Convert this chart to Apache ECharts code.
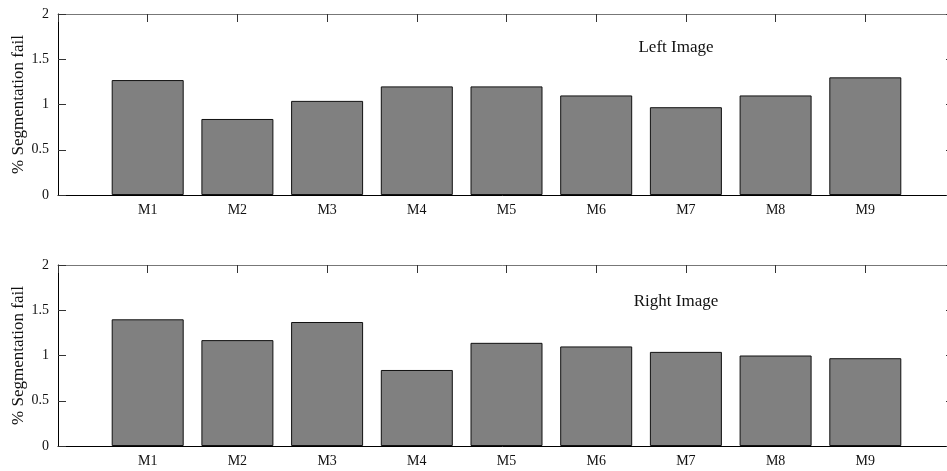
<!DOCTYPE html>
<html style="height: 100%">
<head>
    <meta charset="utf-8">
</head>
<body style="height: 100%; margin: 0; background: #fff">
    <div id="container" style="width: 947px; height: 471px"></div>
    <script type="text/javascript" src="https://cdn.jsdelivr.net/npm/echarts@6/dist/echarts.min.js"></script>
    <script type="text/javascript">
var methods = ['M1', 'M2', 'M3', 'M4', 'M5', 'M6', 'M7', 'M8', 'M9'];
var leftFail = [1.27, 0.84, 1.04, 1.20, 1.20, 1.10, 0.97, 1.10, 1.30];
var rightFail = [1.40, 1.17, 1.37, 0.84, 1.14, 1.10, 1.04, 1.00, 0.97];
var yTicks = [0, 0.5, 1, 1.5, 2];

var dom = document.getElementById("container");
var myChart = echarts.init(dom);
var font = 'Liberation Serif';

// bars sit at x = 1..9 on a 0..10 axis, like matlab's bar()
var toPoints = function (vals) {
    var res = [];
    for (var i = 0; i < vals.length; i++) {
        res.push([i + 1, vals[i]]);
    }
    return res;
};

var bottomAxis = function (gi) {
    return {
        type: 'value', gridIndex: gi, min: 0, max: 10, interval: 1,
        axisLine: { lineStyle: { color: '#000', width: 1 } },
        axisTick: { show: false },
        splitLine: { show: false },
        axisLabel: {
            color: '#111', fontFamily: font, fontSize: 14, margin: 8,
            formatter: function (v) { return methods[v - 1] || ''; }
        }
    };
};
var topAxis = function (gi) {
    return {
        type: 'value', gridIndex: gi, position: 'top', min: 0, max: 10, interval: 1,
        axisLine: { onZero: false, lineStyle: { color: '#777', width: 1 } },
        axisTick: { inside: true, length: 8, lineStyle: { color: '#333' } },
        splitLine: { show: false },
        axisLabel: { show: false }
    };
};
var leftAxis = function (gi) {
    return {
        type: 'value', gridIndex: gi, min: yTicks[0], max: yTicks[yTicks.length - 1], interval: 0.5,
        name: '% Segmentation fail', nameLocation: 'middle', nameRotate: 90, nameGap: 31,
        nameMoveOverlap: false,
        nameTextStyle: { color: '#111', fontFamily: font, fontSize: 17 },
        axisLine: { show: true, onZero: false, lineStyle: { color: '#000', width: 1 } },
        axisTick: { inside: true, length: 8, lineStyle: { color: '#333' } },
        splitLine: { show: false },
        axisLabel: { color: '#111', fontFamily: font, fontSize: 14, margin: 9 }
    };
};
var rightAxis = function (gi) {
    return {
        type: 'value', gridIndex: gi, position: 'right', min: 0, max: 2, interval: 0.5,
        axisLine: { show: true, onZero: false, lineStyle: { color: '#777', width: 1 } },
        axisTick: { inside: true, length: 9, lineStyle: { color: '#333' } },
        splitLine: { show: false },
        axisLabel: { show: false }
    };
};
var barSeries = function (idx, vals) {
    return {
        type: 'bar', xAxisIndex: idx, yAxisIndex: idx,
        data: toPoints(vals),
        barWidth: 72,
        itemStyle: { color: '#808080', borderColor: '#111', borderWidth: 1 },
        z: 1
    };
};

option = {
    backgroundColor: '#fff',
    animation: false,
    grid: [
        { left: 58, width: 897, top: 14, height: 181, containLabel: false, outerBoundsMode: 'none' },
        { left: 58, width: 897, top: 265, height: 181, containLabel: false, outerBoundsMode: 'none' }
    ],
    xAxis: [bottomAxis(0), bottomAxis(1), topAxis(0), topAxis(1)],
    yAxis: [leftAxis(0), leftAxis(1), rightAxis(0), rightAxis(1)],
    series: [barSeries(0, leftFail), barSeries(1, rightFail)],
    graphic: [
        { type: 'text', x: 676, y: 48, style: { text: 'Left Image', fill: '#111', font: '17px "Liberation Serif"', align: 'center', verticalAlign: 'middle' } },
        { type: 'text', x: 676, y: 302, style: { text: 'Right Image', fill: '#111', font: '17px "Liberation Serif"', align: 'center', verticalAlign: 'middle' } }
    ]
};
if (option && typeof option === "object") {
    myChart.setOption(option, true);
}
    </script>
</body>
</html>
